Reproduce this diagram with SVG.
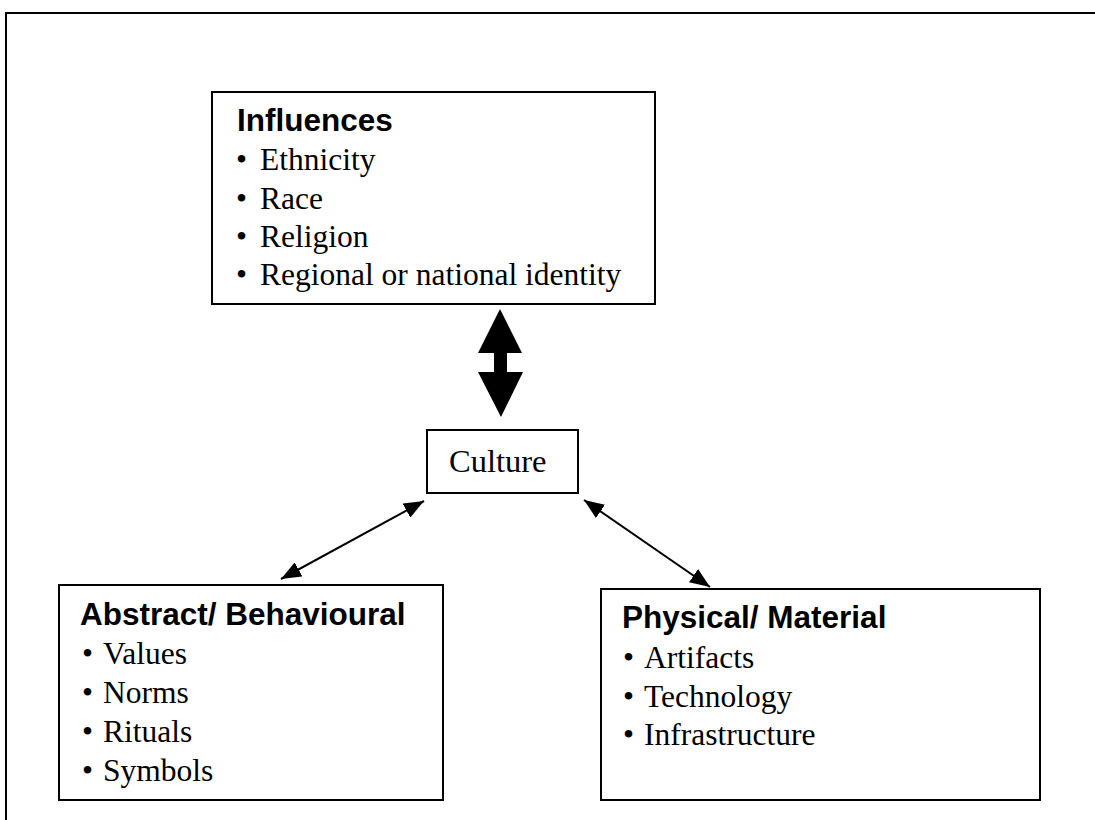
<svg xmlns="http://www.w3.org/2000/svg" width="1095" height="820" viewBox="0 0 1095 820">
<defs>
<style>
.box{fill:#fff;stroke:#000;stroke-width:2}
.title{font-family:"Liberation Sans",Arial,sans-serif;font-weight:bold;font-size:31.5px;fill:#000}
.item{font-family:"Liberation Serif","Times New Roman",serif;font-size:31.5px;fill:#000}
.conn{stroke:#000;stroke-width:2;fill:none}
</style>
<marker id="ah" viewBox="0 0 20 16" refX="20" refY="8" markerWidth="20" markerHeight="16" markerUnits="userSpaceOnUse" orient="auto-start-reverse">
<path d="M0,0 L20,8 L0,16 z" fill="#000"/>
</marker>
</defs>
<rect width="1095" height="820" fill="#fff"/>
<path d="M6,820 V13 H1095" fill="none" stroke="#000" stroke-width="2"/>

<g id="connectors">
<polygon points="500,309 522,353 507,353 507,372 523,372 501,417 478,372 494,372 494,353 478,353" fill="#000"/>
<line class="conn" x1="424" y1="501" x2="281" y2="579" marker-start="url(#ah)" marker-end="url(#ah)"/>
<line class="conn" x1="584" y1="500" x2="710" y2="587" marker-start="url(#ah)" marker-end="url(#ah)"/>
</g>

<g id="influences">
<rect class="box" x="212" y="92" width="443" height="212"/>
<text class="title" x="237" y="131">Influences</text>
<text class="item" x="236" y="170">•</text><text class="item" x="260" y="170">Ethnicity</text>
<text class="item" x="236" y="208.5">•</text><text class="item" x="260" y="208.5">Race</text>
<text class="item" x="236" y="247">•</text><text class="item" x="260" y="247">Religion</text>
<text class="item" x="236" y="285">•</text><text class="item" x="260" y="285">Regional or national identity</text>
</g>

<g id="culture">
<rect class="box" x="427" y="430" width="151" height="63"/>
<text x="449" y="472" font-family="'Liberation Serif','Times New Roman',serif" font-size="32.5px">Culture</text>
</g>

<g id="abstract">
<rect class="box" x="59" y="585" width="384" height="215"/>
<text class="title" x="80" y="625">Abstract/ Behavioural</text>
<text class="item" x="82" y="664">•</text><text class="item" x="103" y="664">Values</text>
<text class="item" x="82" y="703">•</text><text class="item" x="103" y="703">Norms</text>
<text class="item" x="82" y="742">•</text><text class="item" x="103" y="742">Rituals</text>
<text class="item" x="82" y="781">•</text><text class="item" x="103" y="781">Symbols</text>
</g>

<g id="physical">
<rect class="box" x="601" y="589" width="439" height="211"/>
<text class="title" x="622" y="628">Physical/ Material</text>
<text class="item" x="623" y="668">•</text><text class="item" x="644" y="668">Artifacts</text>
<text class="item" x="623" y="707">•</text><text class="item" x="644" y="707">Technology</text>
<text class="item" x="623" y="745">•</text><text class="item" x="644" y="745">Infrastructure</text>
</g>
</svg>
